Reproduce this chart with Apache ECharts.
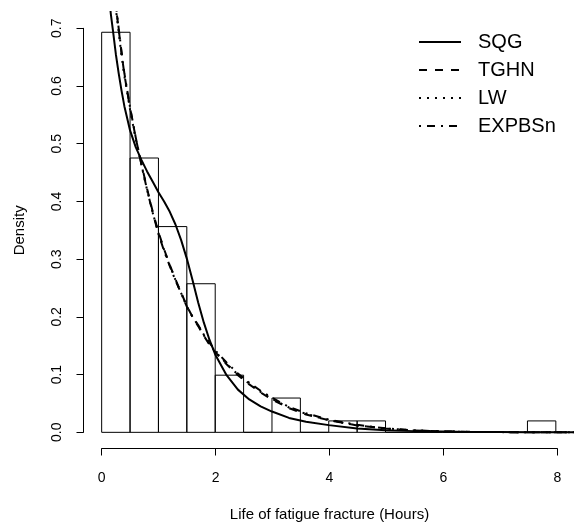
<!DOCTYPE html>
<html>
<head>
<meta charset="utf-8">
<title>Life of fatigue fracture</title>
<script src="https://cdn.jsdelivr.net/npm/echarts@6/dist/echarts.min.js"></script>
<style>
  html, body { margin: 0; padding: 0; background: #fff; }
  #chart { width: 574px; height: 530px; }
</style>
</head>
<body>
<div id="chart"></div>
<script>
// Histogram of fatigue-fracture lifetimes (bins of 0.5 h) and four fitted densities
const sampleSize = 101;
const binWidth = 0.5;
const binLower = [0, 0.5, 1, 1.5, 2, 2.5, 3, 3.5, 4, 4.5, 5, 5.5, 6, 6.5, 7, 7.5];
const binCounts = [35, 24, 18, 13, 5, 0, 3, 0, 1, 1, 0, 0, 0, 0, 0, 1];

const xTicks = [0, 2, 4, 6, 8];
const yTicks = [0, 0.1, 0.2, 0.3, 0.4, 0.5, 0.6, 0.7];

const curveX = [0.12, 0.16, 0.2, 0.25, 0.3, 0.35, 0.4, 0.5, 0.6, 0.7, 0.8, 0.9, 1.0, 1.1, 1.2, 1.3,
  1.4, 1.5, 1.6, 1.7, 1.8, 1.9, 2.0, 2.2, 2.4, 2.6, 2.8, 3.0, 3.3, 3.6, 4.0, 4.5, 5.0, 5.5,
  6.0, 6.5, 7.0, 7.5, 8.0, 8.4];

const sqg = [0.770, 0.726, 0.695, 0.655, 0.622, 0.592, 0.565, 0.523, 0.494, 0.472, 0.452, 0.434,
  0.416, 0.400, 0.382, 0.360, 0.333, 0.301, 0.264, 0.225, 0.190, 0.160, 0.135, 0.099, 0.074,
  0.057, 0.045, 0.036, 0.025, 0.0185, 0.0125, 0.0068, 0.0037, 0.0021, 0.0013, 0.0008, 0.0005,
  0.0003, 0.0002, 0.0001];

const tghn = [0.860, 0.810, 0.770, 0.738, 0.698, 0.657, 0.620, 0.562, 0.510, 0.465, 0.422, 0.382,
  0.347, 0.317, 0.290, 0.265, 0.242, 0.219, 0.200, 0.184, 0.167, 0.152, 0.139, 0.118, 0.099,
  0.083, 0.069, 0.057, 0.042, 0.031, 0.021, 0.012, 0.0066, 0.0032, 0.0016, 0.0008, 0.0004,
  0.0002, 0.0001, 0.00005];

const lw = [0.850, 0.803, 0.765, 0.733, 0.693, 0.653, 0.617, 0.559, 0.508, 0.463, 0.420, 0.380,
  0.345, 0.316, 0.289, 0.264, 0.241, 0.218, 0.200, 0.185, 0.168, 0.153, 0.140, 0.119, 0.100,
  0.084, 0.070, 0.058, 0.043, 0.032, 0.021, 0.012, 0.0068, 0.0034, 0.0017, 0.0008, 0.0004,
  0.0002, 0.0001, 0.00005];

const expbsn = [0.870, 0.818, 0.775, 0.741, 0.700, 0.659, 0.622, 0.563, 0.511, 0.464, 0.420, 0.380,
  0.344, 0.314, 0.288, 0.263, 0.241, 0.218, 0.200, 0.186, 0.169, 0.155, 0.142, 0.121, 0.102,
  0.086, 0.072, 0.060, 0.044, 0.033, 0.022, 0.013, 0.0070, 0.0035, 0.0017, 0.0008, 0.0004,
  0.0002, 0.0001, 0.00005];

const seriesNames = ['SQG', 'TGHN', 'LW', 'EXPBSn'];

const font = "'Liberation Sans', Arial, Helvetica, sans-serif";

const histData = binLower.map((lo, i) => [lo, lo + binWidth, binCounts[i] / (sampleSize * binWidth)]);
const toPairs = ys => curveX.map((x, i) => [x, ys[i]]);

function curve(name, ys, dash) {
  return {
    name: name,
    type: 'line',
    xAxisIndex: 0,
    yAxisIndex: 0,
    data: toPairs(ys),
    symbol: 'none',
    showSymbol: false,
    smooth: false,
    clip: true,
    silent: true,
    lineStyle: { color: '#000', width: 2, type: dash, cap: 'butt', join: 'round' },
    itemStyle: { color: '#000' },
    z: 3
  };
}

const chart = echarts.init(document.getElementById('chart'), null, { renderer: 'canvas' });

const option = {
  animation: false,
  backgroundColor: '#fff',
  textStyle: { fontFamily: font },
  grid: [
    // plotting region (data limits padded 4%)
    { left: 83.5, top: 12.1, width: 492, height: 436.4, containLabel: false },
    // bottom axis spanning the tick range
    { left: 101.7, top: 12.1, width: 455.6, height: 436.4, containLabel: false },
    // left axis spanning the tick range
    { left: 83.5, top: 28.3, width: 455.6, height: 404, containLabel: false }
  ],
  xAxis: [
    { type: 'value', gridIndex: 0, min: -0.32, max: 8.32, show: false },
    {
      type: 'value', gridIndex: 1, min: xTicks[0], max: xTicks[xTicks.length - 1], interval: 2,
      position: 'bottom',
      name: 'Life of fatigue fracture (Hours)', nameLocation: 'middle', nameGap: 59,
      nameTextStyle: { fontSize: 15, color: '#000', fontFamily: font },
      axisLine: { show: true, onZero: false, lineStyle: { color: '#000', width: 1 } },
      axisTick: { show: true, inside: false, length: 7, lineStyle: { color: '#000' } },
      axisLabel: { show: true, margin: 23, fontSize: 14, color: '#000', fontFamily: font,
        showMinLabel: true, showMaxLabel: true },
      splitLine: { show: false }
    },
    { type: 'value', gridIndex: 2, min: 0, max: 8, show: false }
  ],
  yAxis: [
    { type: 'value', gridIndex: 0, min: -0.028, max: 0.728, show: false },
    { type: 'value', gridIndex: 1, min: 0, max: 1, show: false },
    {
      type: 'value', gridIndex: 2, min: yTicks[0], max: yTicks[yTicks.length - 1], interval: 0.1,
      position: 'left',
      name: 'Density', nameLocation: 'middle', nameGap: 56, nameRotate: 90,
      nameTextStyle: { fontSize: 15, color: '#000', fontFamily: font },
      axisLine: { show: true, onZero: false, lineStyle: { color: '#000', width: 1 } },
      axisTick: { show: true, inside: false, length: 7, lineStyle: { color: '#000' } },
      axisLabel: { show: true, rotate: 90, margin: 19, fontSize: 14, color: '#000', fontFamily: font,
        formatter: v => v.toFixed(1), showMinLabel: true, showMaxLabel: true },
      splitLine: { show: false }
    }
  ],
  legend: {
    orient: 'vertical',
    left: 413,
    top: 27,
    itemWidth: 42,
    itemHeight: 14,
    itemGap: 8,
    selectedMode: false,
    data: seriesNames,
    lineStyle: { width: 2 },
    itemStyle: { opacity: 0 },
    textStyle: { fontSize: 20, color: '#000', fontFamily: font, padding: [0, 0, 0, 12] }
  },
  series: [
    {
      name: 'hist',
      type: 'custom',
      xAxisIndex: 0,
      yAxisIndex: 0,
      data: histData,
      encode: { x: [0, 1], y: 2 },
      silent: true,
      z: 1,
      renderItem: function (params, api) {
        const topLeft = api.coord([api.value(0), api.value(2)]);
        const bottomRight = api.coord([api.value(1), 0]);
        return {
          type: 'rect',
          shape: {
            x: topLeft[0],
            y: topLeft[1],
            width: bottomRight[0] - topLeft[0],
            height: bottomRight[1] - topLeft[1]
          },
          style: { fill: 'none', stroke: '#000', lineWidth: 1 }
        };
      }
    },
    curve('SQG', sqg, 'solid'),
    curve('TGHN', tghn, [8, 8]),
    curve('LW', lw, [2, 6]),
    curve('EXPBSn', expbsn, [2, 6, 8, 6])
  ]
};

chart.setOption(option);
</script>
</body>
</html>
